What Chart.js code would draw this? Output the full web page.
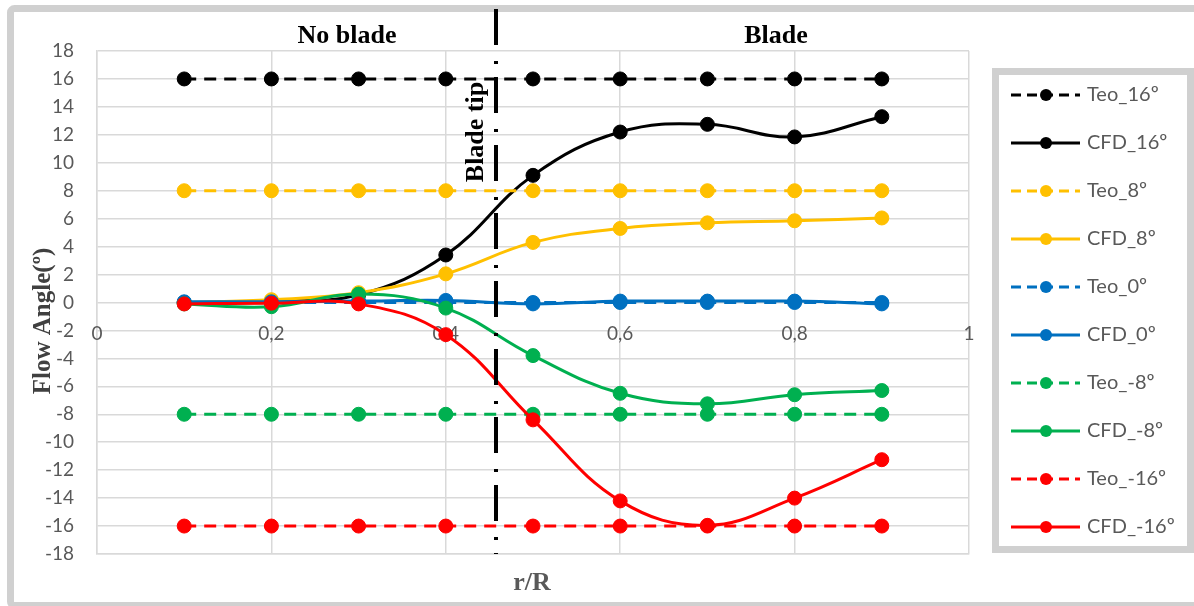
<!DOCTYPE html>
<html>
<head>
<meta charset="utf-8">
<script src="https://cdn.jsdelivr.net/npm/chart.js@4/dist/chart.umd.min.js"></script>
<style>
html,body{margin:0;padding:0;background:#fff;}
canvas{display:block;}
</style>
</head>
<body>
<canvas id="c" width="1194" height="606"></canvas>
<script>
// ---- data ----
const rR = [0.1, 0.2, 0.3, 0.4, 0.5, 0.6, 0.7, 0.8, 0.9];
const teo16  = [16, 16, 16, 16, 16, 16, 16, 16, 16];
const cfd16  = [0.0, 0.1, 0.55, 3.4, 9.1, 12.2, 12.75, 11.85, 13.3];
const teo8   = [8, 8, 8, 8, 8, 8, 8, 8, 8];
const cfd8   = [0.0, 0.2, 0.7, 2.05, 4.3, 5.3, 5.7, 5.85, 6.05];
const teo0   = [0, 0, 0, 0, 0, 0, 0, 0, 0];
const cfd0   = [0.05, 0.05, 0.1, 0.15, -0.1, 0.1, 0.1, 0.1, -0.1];
const teoM8  = [-8, -8, -8, -8, -8, -8, -8, -8, -8];
const cfdM8  = [-0.1, -0.3, 0.6, -0.4, -3.8, -6.5, -7.25, -6.6, -6.3];
const teoM16 = [-16, -16, -16, -16, -16, -16, -16, -16, -16];
const cfdM16 = [-0.1, -0.05, -0.1, -2.3, -8.4, -14.2, -15.95, -14.0, -11.25];
const seriesNames = ['Teo_16º','CFD_16º','Teo_8º','CFD_8º','Teo_0º','CFD_0º','Teo_-8º','CFD_-8º','Teo_-16º','CFD_-16º'];
const seriesValues = [teo16, cfd16, teo8, cfd8, teo0, cfd0, teoM8, cfdM8, teoM16, cfdM16];
const seriesColors = ['#000000','#000000','#FFC000','#FFC000','#0070C0','#0070C0','#00B050','#00B050','#FF0000','#FF0000'];
const xTickValues = [0, 0.2, 0.4, 0.6, 0.8, 1];
const xTickLabels = ['0', '0,2', '0,4', '0,6', '0,8', '1'];
const bladeTipX = 0.457;

const datasets = seriesNames.map((name, i) => {
  const dashed = name.startsWith('Teo');
  return {
    label: name,
    data: rR.map((x, k) => ({x: x, y: seriesValues[i][k]})),
    borderColor: seriesColors[i],
    backgroundColor: seriesColors[i],
    pointBackgroundColor: seriesColors[i],
    pointBorderColor: seriesColors[i],
    pointRadius: 7,
    pointBorderWidth: 1,
    borderWidth: 3,
    borderDash: dashed ? [12, 8] : [],
    tension: dashed ? 0 : 0.4,
    fill: false,
    order: 9 - i,
    _dashed: dashed
  };
});

const annot = {
  id: 'annot',
  beforeDraw(chart) {
    const ctx = chart.ctx;
    ctx.save();
    ctx.fillStyle = '#ffffff';
    ctx.fillRect(0, 0, chart.width, chart.height);
    ctx.strokeStyle = '#d0d0d0';
    ctx.lineWidth = 7;
    ctx.beginPath();
    ctx.roundRect(10.5, 8.5, 1200, 597, 4);
    ctx.stroke();
    ctx.restore();
  },
  beforeDatasetsDraw(chart) {
    const ctx = chart.ctx;
    const xs = chart.scales.x, ys = chart.scales.y;
    ctx.save();
    ctx.fillStyle = '#595959';
    ctx.font = '19px Lato, "Open Sans", sans-serif';
    ctx.textAlign = 'center';
    ctx.textBaseline = 'middle';
    const ly = ys.getPixelForValue(0) + 31;
    xTickValues.forEach((v, i) => ctx.fillText(xTickLabels[i], xs.getPixelForValue(v), ly));
    ctx.restore();
  },
  afterDatasetsDraw(chart) {
    const ctx = chart.ctx;
    const xs = chart.scales.x, ys = chart.scales.y;
    const ca = chart.chartArea;
    ctx.save();
    // blade tip line
    const bx = Math.round(xs.getPixelForValue(bladeTipX));
    ctx.strokeStyle = '#000';
    ctx.lineWidth = 4;
    ctx.setLineDash([36, 16, 3, 13]);
    ctx.beginPath();
    ctx.moveTo(bx, 9);
    ctx.lineTo(bx, ca.bottom);
    ctx.stroke();
    ctx.setLineDash([]);
    // texts
    ctx.fillStyle = '#000';
    ctx.font = 'bold 26px "Liberation Serif", "Times New Roman", serif';
    ctx.textAlign = 'center';
    ctx.textBaseline = 'alphabetic';
    ctx.fillText('No blade', 347, 43);
    ctx.fillText('Blade', 776, 43);
    ctx.save();
    ctx.translate(483, 132);
    ctx.rotate(-Math.PI / 2);
    ctx.fillText('Blade tip', 0, 0);
    ctx.restore();
    ctx.fillStyle = '#595959';
    ctx.fillText('r/R', 532, 590);
    ctx.save();
    ctx.fillStyle = '#404040';
    ctx.font = 'bold 25px "Liberation Serif", "Times New Roman", serif';
    ctx.translate(50, 321);
    ctx.rotate(-Math.PI / 2);
    ctx.fillText('Flow Angle(º)', 0, 0);
    ctx.restore();
    // legend
    ctx.strokeStyle = '#d0d0d0';
    ctx.lineWidth = 7;
    ctx.strokeRect(995.5, 71.5, 195, 478);
    chart.data.datasets.forEach((ds, i) => {
      const y = 95 + i * 48;
      ctx.strokeStyle = ds.borderColor;
      ctx.lineWidth = 3;
      ctx.setLineDash(ds._dashed ? [10, 6] : []);
      ctx.beginPath();
      ctx.moveTo(1011, y);
      ctx.lineTo(1080, y);
      ctx.stroke();
      ctx.setLineDash([]);
      ctx.fillStyle = ds.borderColor;
      ctx.beginPath();
      ctx.arc(1046, y, 6, 0, Math.PI * 2);
      ctx.fill();
      ctx.fillStyle = '#595959';
      ctx.font = '20px Lato, "Open Sans", sans-serif';
      ctx.textAlign = 'left';
      ctx.textBaseline = 'middle';
      ctx.fillText(ds.label, 1087, y);
    });
    ctx.restore();
  }
};

new Chart(document.getElementById('c'), {
  type: 'line',
  data: {datasets: datasets},
  options: {
    responsive: false,
    animation: false,
    layout: {padding: {left: 0, top: 51, right: 225, bottom: 0}},
    plugins: {legend: {display: false}, tooltip: {enabled: false}},
    scales: {
      x: {
        type: 'linear', min: 0, max: 1,
        ticks: {display: false, stepSize: 0.2},
        grid: {color: '#d9d9d9', lineWidth: 1.5, drawTicks: false},
        border: {color: '#d9d9d9', width: 1.5},
        afterFit(s) { s.height = 52; }
      },
      y: {
        min: -18, max: 18,
        ticks: {stepSize: 2, color: '#595959', padding: 23,
                font: {family: 'Lato, "Open Sans", sans-serif', size: 19},
                callback: v => String(v)},
        grid: {color: '#d9d9d9', lineWidth: 1.5, drawTicks: false},
        border: {color: '#d9d9d9', width: 1.5},
        afterFit(s) { s.width = 97; }
      }
    }
  },
  plugins: [annot]
});
</script>
</body>
</html>
